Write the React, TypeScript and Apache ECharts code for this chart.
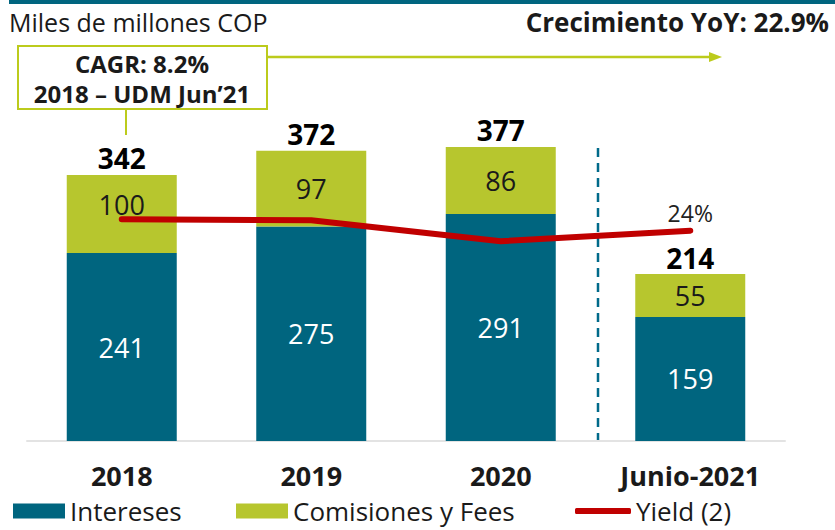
import React, { useEffect, useRef } from "react";
import * as echarts from "echarts";

const categories = ["2018", "2019", "2020", "Junio-2021"];
const intereses = [241, 275, 291, 159];
const comisiones = [100, 97, 86, 55];
const totales = [342, 372, 377, 214];
const yieldPct = [25.3, 25.2, 22.8, 24.0];

const TEAL = "#00657f";
const GREEN = "#b7c62e";
const LIME = "#bccb1c";
const RED = "#c00000";
const TXT = "#1a1a1a";
const FONT = "Open Sans";

export default function App() {
  const ref = useRef<HTMLDivElement>(null);
  useEffect(() => {
    document.body.style.margin = "0";
    const chart = echarts.init(ref.current!, null, { renderer: "svg" });
    const legendText = { fontFamily: FONT, fontSize: 26, lineHeight: 26, color: TXT };
    const option: any = {
      animation: false,
      textStyle: { fontFamily: FONT },
      grid: { left: 27, right: 50, top: 129, bottom: 89 },
      xAxis: {
        type: "category",
        data: categories,
        axisLine: { lineStyle: { color: "#e3e3e3", width: 2 } },
        axisTick: { show: false },
        axisLabel: { fontFamily: FONT, fontSize: 27, fontWeight: "bold", color: TXT, margin: 21 },
      },
      yAxis: [
        { type: "value", min: 0, max: 400, show: false },
        { type: "value", min: 0, max: 35.6, show: false },
      ],
      legend: [
        {
          data: [{ name: "Intereses", icon: "rect" }],
          left: 13, top: 498, padding: 0, itemWidth: 52, itemHeight: 15,
          textStyle: legendText,
          selectedMode: false,
        },
        {
          data: [{ name: "Comisiones y Fees", icon: "rect" }],
          left: 236, top: 498, padding: 0, itemWidth: 52, itemHeight: 15,
          textStyle: legendText,
          selectedMode: false,
        },
        {
          data: [{ name: "Yield (2)", icon: "roundRect", itemStyle: { color: RED } }],
          left: 575, top: 498, padding: 0, itemWidth: 56, itemHeight: 6,
          textStyle: legendText,
          selectedMode: false,
        },
      ],
      series: [
        {
          name: "Intereses",
          type: "bar",
          stack: "t",
          barWidth: 110,
          data: intereses,
          itemStyle: { color: TEAL },
          label: { show: true, position: "inside", color: "#ffffff", fontFamily: FONT, fontSize: 27 },
        },
        {
          name: "Comisiones y Fees",
          type: "bar",
          stack: "t",
          barWidth: 110,
          data: comisiones.map((v, i) =>
            i === 0 ? { value: v, label: { offset: [0, -10] } } : v
          ),
          itemStyle: { color: GREEN },
          label: { show: true, position: "inside", color: TXT, fontFamily: FONT, fontSize: 27 },
        },
        {
          name: "Total",
          type: "line",
          data: totales,
          symbol: "circle",
          symbolSize: 1,
          itemStyle: { color: "transparent" },
          lineStyle: { opacity: 0 },
          label: {
            show: true, position: "top", distance: 2, color: "#000", fontFamily: FONT,
            fontSize: 28, fontWeight: "bold",
          },
          z: 5,
        },
        {
          name: "Yield (2)",
          type: "line",
          yAxisIndex: 1,
          data: yieldPct.map((v, i) =>
            i === yieldPct.length - 1
              ? {
                  value: v,
                  label: {
                    show: true, position: "top", distance: 6, color: "#222",
                    fontFamily: FONT, fontSize: 23,
                    formatter: (p: any) => Math.round(p.value) + "%",
                  },
                }
              : v
          ),
          symbol: "circle",
          symbolSize: 1,
          itemStyle: { color: RED },
          lineStyle: { color: RED, width: 6, cap: "round", join: "round" },
          label: { show: false },
          z: 4,
        },
      ],
      graphic: [
        { type: "rect", shape: { x: 9, y: 0, width: 826, height: 4 }, style: { fill: TEAL } },
        {
          type: "text", x: 9, y: 22,
          style: { text: "Miles de millones COP", fontFamily: FONT, fontSize: 25, fill: TXT, verticalAlign: "middle" },
        },
        {
          type: "text", x: 829, y: 22,
          style: {
            text: "Crecimiento YoY: 22.9%", fontFamily: FONT, fontSize: 26, fontWeight: "bold",
            fill: TXT, align: "right", verticalAlign: "middle",
          },
        },
        { type: "line", shape: { x1: 267, y1: 57, x2: 712, y2: 57 }, style: { stroke: LIME, lineWidth: 2.5 } },
        { type: "polygon", shape: { points: [[709, 52], [722, 57], [709, 62]] }, style: { fill: LIME } },
        { type: "line", shape: { x1: 126, y1: 109, x2: 126, y2: 135 }, style: { stroke: LIME, lineWidth: 2 } },
        {
          type: "rect", shape: { x: 18, y: 46, width: 249, height: 63 },
          style: { fill: "#ffffff", stroke: LIME, lineWidth: 2 },
        },
        {
          type: "text", x: 142, y: 63,
          style: {
            text: "CAGR: 8.2%", fontFamily: FONT, fontSize: 24, lineHeight: 26, fontWeight: "bold", fill: TXT,
            align: "center", verticalAlign: "middle",
          },
        },
        {
          type: "text", x: 142, y: 93,
          style: {
            text: "2018 – UDM Jun’21", fontFamily: FONT, fontSize: 24, lineHeight: 26, fontWeight: "bold", fill: TXT,
            align: "center", verticalAlign: "middle",
          },
        },
        {
          type: "line", shape: { x1: 598, y1: 148, x2: 598, y2: 446 },
          style: { stroke: "#006a8a", lineWidth: 2.5, lineDash: [9, 6] },
        },
      ],
    };
    chart.setOption(option);
    return () => chart.dispose();
  }, []);
  return <div ref={ref} style={{ width: 835, height: 530 }} />;
}
